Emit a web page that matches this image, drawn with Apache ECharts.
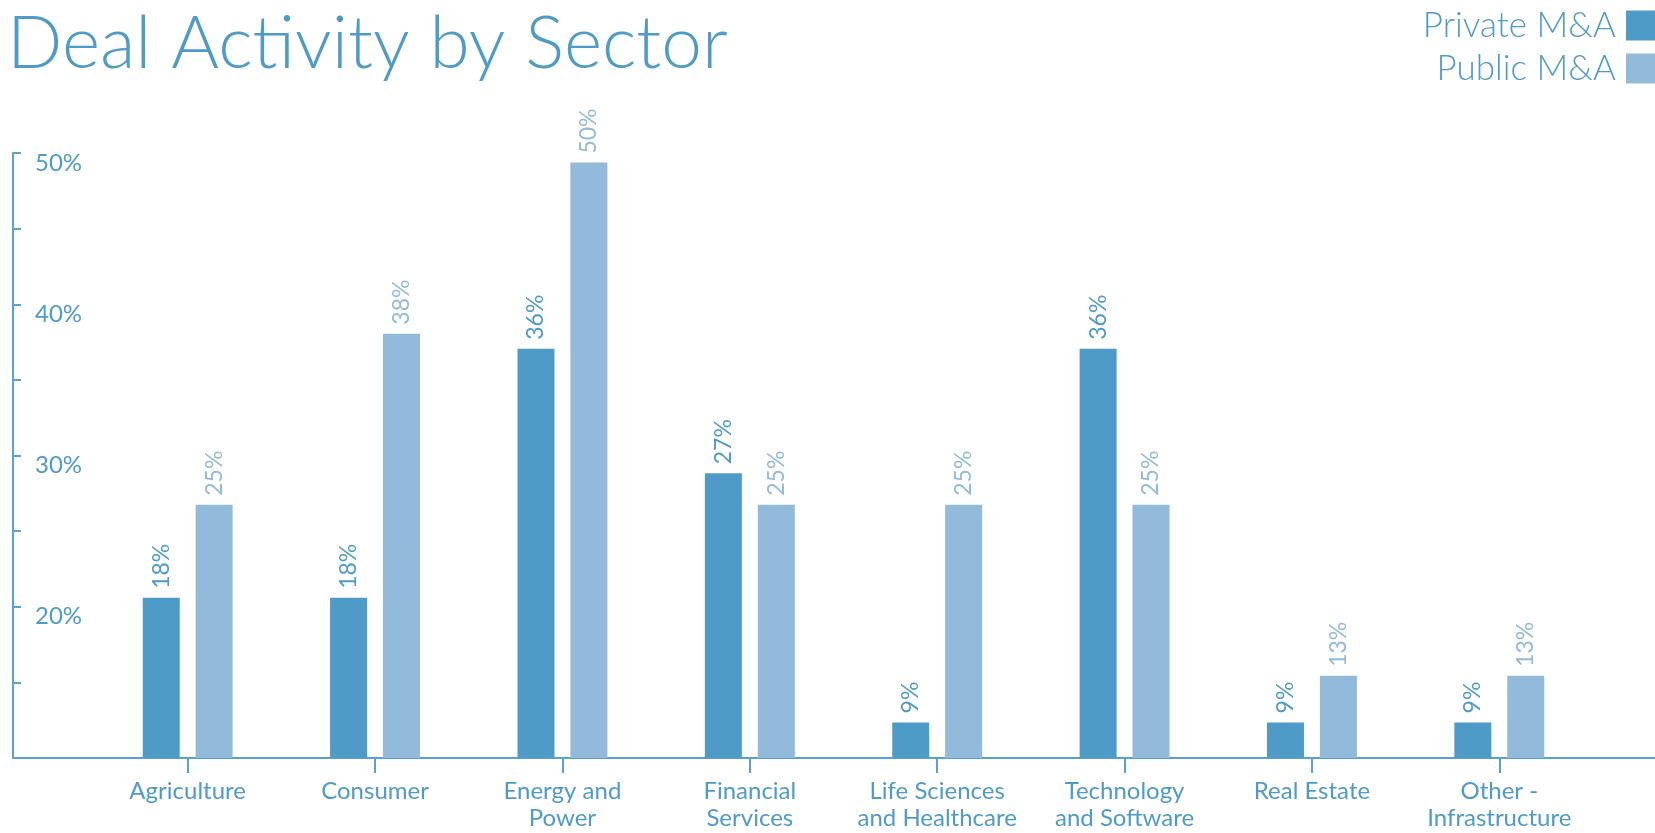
<!DOCTYPE html>
<html>
<head>
<meta charset="utf-8">
<title>Deal Activity by Sector</title>
<script src="https://cdn.jsdelivr.net/npm/echarts@6/dist/echarts.min.js"></script>
<style>
  html, body { margin: 0; padding: 0; background: #ffffff; }
  #chart { width: 1655px; height: 833px; }
</style>
</head>
<body>
<div id="chart"></div>
<script>
// Sectors along the horizontal axis
const sectors = [
  'Agriculture', 'Consumer', 'Energy and\nPower', 'Financial\nServices',
  'Life Sciences\nand Healthcare', 'Technology\nand Software', 'Real Estate', 'Other -\nInfrastructure'
];
// Share of deals per sector (%)
const privateShare = [18.2, 18.2, 36.4, 27.3, 9.1, 36.4, 9.1, 9.1];
const publicShare  = [25, 37.5, 50, 25, 25, 25, 12.5, 12.5];
// Labelled ticks on the percentage axis
const shareTicks = [20, 30, 40, 50];

const seriesNames = ['Private M&A', 'Public M&A'];
const privateColor = '#4e9bc8';
const publicColor = '#92bada';
const inkColor = '#4f9bc8';
const lineColor = '#5aa2cd';
const font = 'Lato, "Open Sans", "Noto Sans", sans-serif';

const chart = echarts.init(document.getElementById('chart'), null, { renderer: 'canvas' });

// Value label standing upright above each bar
function barLabel(color) {
  return {
    show: true,
    position: 'top',
    rotate: 90,
    align: 'left',
    verticalAlign: 'middle',
    distance: 9,
    fontFamily: font,
    fontSize: 23,
    color: color,
    formatter: p => Math.round(p.value) + '%'
  };
}

chart.setOption({
  animation: false,
  backgroundColor: '#ffffff',
  title: {
    text: 'Deal Activity by Sector',
    left: 7,
    top: 8,
    padding: 0,
    textStyle: { fontFamily: font, fontSize: 73, fontWeight: 300, color: inkColor }
  },
  legend: {
    data: seriesNames,
    orient: 'vertical',
    right: 0,
    top: 8,
    padding: 0,
    align: 'right',
    icon: 'rect',
    itemWidth: 29,
    itemHeight: 30,
    itemGap: 8,
    textStyle: {
      fontFamily: font, fontSize: 35, fontWeight: 300, color: inkColor,
      lineHeight: 30, padding: [0, 5, 0, 0]
    }
  },
  grid: [
    // plotting area for the bars
    { left: 94, right: 62, top: 153, bottom: 75 },
    // frame carrying the percentage axis and the baseline
    { left: 13, right: 0, top: 153, bottom: 75 }
  ],
  xAxis: [
    {
      type: 'category',
      gridIndex: 0,
      data: sectors,
      axisLine: { show: false },
      axisTick: { show: true, alignWithLabel: true, length: 15, lineStyle: { color: lineColor, width: 2 } },
      axisLabel: {
        margin: 20, fontFamily: font, fontSize: 24, lineHeight: 27, color: inkColor,
        interval: 0, align: 'center'
      },
      splitLine: { show: false }
    },
    {
      type: 'value',
      gridIndex: 1,
      min: 0,
      max: 1,
      axisLine: { show: true, onZero: false, lineStyle: { color: lineColor, width: 2 } },
      axisTick: { show: false },
      axisLabel: { show: false },
      splitLine: { show: false }
    }
  ],
  yAxis: [
    {
      // scale the bars are drawn against
      type: 'value',
      gridIndex: 0,
      min: 6.5,
      max: 50.7,
      show: false,
      splitLine: { show: false }
    },
    {
      type: 'value',
      gridIndex: 1,
      min: 10,
      max: 50,
      interval: 5,
      axisLine: { show: true, lineStyle: { color: lineColor, width: 2 } },
      axisTick: { show: true, inside: true, length: 8, lineStyle: { color: lineColor, width: 2 } },
      axisLabel: {
        inside: true, margin: 22, verticalAlign: 'top', lineHeight: 20,
        fontFamily: font, fontSize: 24, color: inkColor,
        formatter: v => shareTicks.includes(v) ? v + '%' : ''
      },
      splitLine: { show: false }
    }
  ],
  series: [
    {
      name: seriesNames[0],
      type: 'bar',
      xAxisIndex: 0,
      yAxisIndex: 0,
      data: privateShare,
      barWidth: 37,
      barGap: '43%',
      itemStyle: { color: privateColor },
      label: barLabel(privateColor)
    },
    {
      name: seriesNames[1],
      type: 'bar',
      xAxisIndex: 0,
      yAxisIndex: 0,
      data: publicShare,
      barWidth: 37,
      barGap: '43%',
      itemStyle: { color: publicColor },
      label: barLabel(publicColor)
    }
  ]
});
</script>
</body>
</html>
